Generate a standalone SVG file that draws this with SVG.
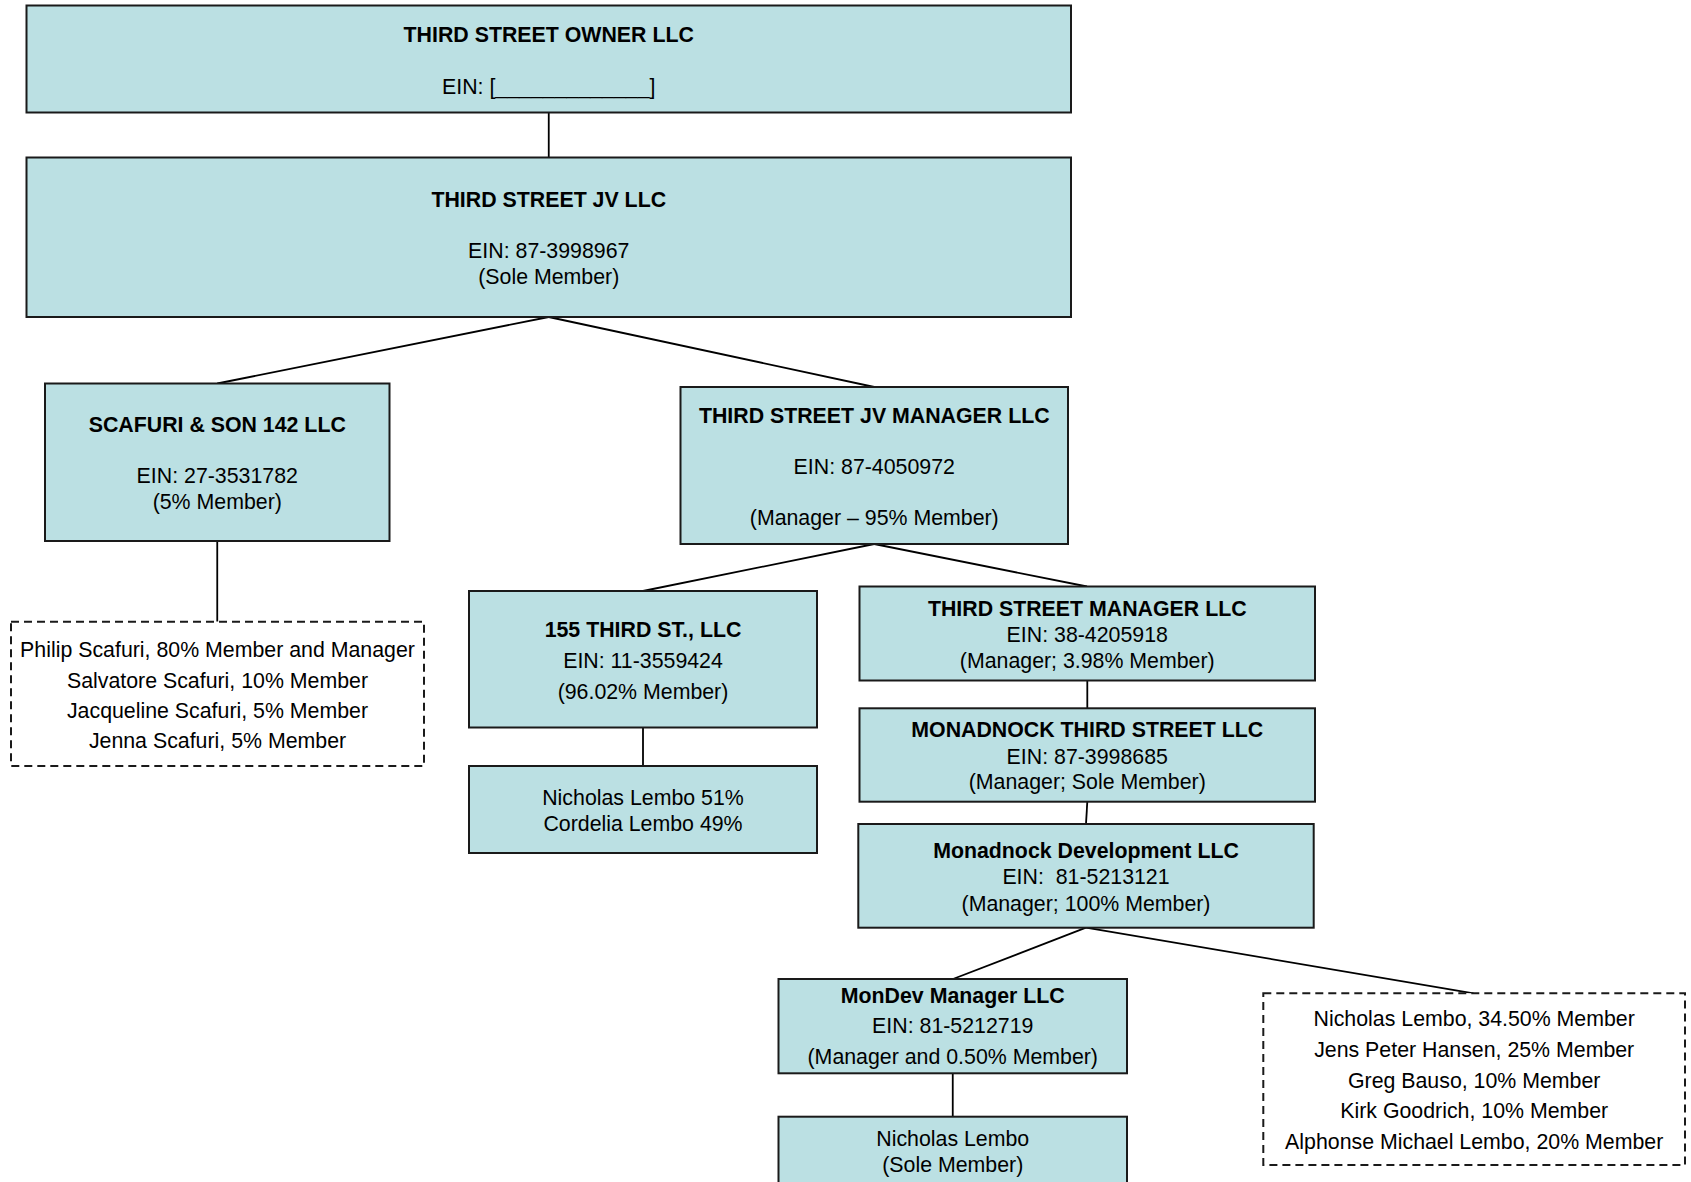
<svg xmlns="http://www.w3.org/2000/svg" width="1691" height="1182" viewBox="0 0 1691 1182">
<style>
.box{fill:#BBE0E3;stroke:#1a1a1a;stroke-width:2}
.dash{fill:#fff;stroke:#1a1a1a;stroke-width:2;stroke-dasharray:8 5}
text{font-family:"Liberation Sans",Arial,sans-serif;font-size:21.33px;fill:#000;text-anchor:middle}
.b{font-weight:bold}
.conn line{stroke:#000;stroke-width:1.8}
</style>
<rect width="1691" height="1182" fill="#fff"/>
<g class="conn">
<line x1="548.75" y1="112.5" x2="548.75" y2="157.5"/>
<line x1="548.75" y1="317" x2="217.25" y2="383.5"/>
<line x1="548.75" y1="317" x2="874.25" y2="387"/>
<line x1="217.25" y1="541" x2="217.25" y2="621.7"/>
<line x1="874.25" y1="544" x2="643" y2="591"/>
<line x1="874.25" y1="544" x2="1087" y2="586.5"/>
<line x1="643" y1="727.5" x2="643" y2="766"/>
<line x1="1087.3" y1="680.5" x2="1087.3" y2="708.3"/>
<line x1="1087.3" y1="801.7" x2="1086" y2="824"/>
<line x1="1086" y1="927.7" x2="953" y2="979"/>
<line x1="1086" y1="927.7" x2="1473.5" y2="993.3"/>
<line x1="952.75" y1="1073.3" x2="952.75" y2="1116.7"/>
</g>
<g id="owner">
<rect class="box" x="26.5" y="5.5" width="1044.5" height="107"/>
<text class="b" x="548.75" y="41.7">THIRD STREET OWNER LLC</text>
<text x="548.75" y="94">EIN: [_____________]</text>
</g>
<g id="jv">
<rect class="box" x="26.5" y="157.5" width="1044.5" height="159.5"/>
<text class="b" x="548.75" y="207.3">THIRD STREET JV LLC</text>
<text x="548.75" y="258.3">EIN: 87-3998967</text>
<text x="548.75" y="284">(Sole Member)</text>
</g>
<g id="scafuri">
<rect class="box" x="45" y="383.5" width="344.5" height="157.5"/>
<text class="b" x="217.25" y="431.7">SCAFURI &amp; SON 142 LLC</text>
<text x="217.25" y="482.7">EIN: 27-3531782</text>
<text x="217.25" y="509">(5% Member)</text>
</g>
<g id="jvmanager">
<rect class="box" x="680.5" y="387" width="387.5" height="157"/>
<text class="b" x="874.25" y="422.7">THIRD STREET JV MANAGER LLC</text>
<text x="874.25" y="474.3">EIN: 87-4050972</text>
<text x="874.25" y="524.5">(Manager – 95% Member)</text>
</g>
<g id="third155">
<rect class="box" x="469" y="591" width="348" height="136.5"/>
<text class="b" x="643" y="636.7">155 THIRD ST., LLC</text>
<text x="643" y="667.7">EIN: 11-3559424</text>
<text x="643" y="698.5">(96.02% Member)</text>
</g>
<g id="lembo155">
<rect class="box" x="469" y="766" width="348" height="87"/>
<text x="643" y="805.3">Nicholas Lembo 51%</text>
<text x="643" y="831">Cordelia Lembo 49%</text>
</g>
<g id="tsmanager">
<rect class="box" x="859.5" y="586.5" width="455.5" height="94"/>
<text class="b" x="1087.25" y="615.5">THIRD STREET MANAGER LLC</text>
<text x="1087.25" y="641.5">EIN: 38-4205918</text>
<text x="1087.25" y="667.5">(Manager; 3.98% Member)</text>
</g>
<g id="monadnockthird">
<rect class="box" x="859.5" y="708.3" width="455.5" height="93.4"/>
<text class="b" x="1087.25" y="737.2">MONADNOCK THIRD STREET LLC</text>
<text x="1087.25" y="763.5">EIN: 87-3998685</text>
<text x="1087.25" y="789">(Manager; Sole Member)</text>
</g>
<g id="monadnockdev">
<rect class="box" x="858.3" y="824" width="455.4" height="103.7"/>
<text class="b" x="1086" y="857.8">Monadnock Development LLC</text>
<text x="1086" y="884.3" xml:space="preserve">EIN:  81-5213121</text>
<text x="1086" y="911">(Manager; 100% Member)</text>
</g>
<g id="mondev">
<rect class="box" x="778.5" y="979" width="348.5" height="94.3"/>
<text class="b" x="952.75" y="1002.7">MonDev Manager LLC</text>
<text x="952.75" y="1033.2">EIN: 81-5212719</text>
<text x="952.75" y="1064">(Manager and 0.50% Member)</text>
</g>
<g id="nlembo">
<rect class="box" x="778.5" y="1116.7" width="348.5" height="72"/>
<text x="952.75" y="1146.2">Nicholas Lembo</text>
<text x="952.75" y="1171.5">(Sole Member)</text>
</g>
<g id="scafurimembers">
<rect class="dash" x="11" y="621.7" width="413" height="144.3"/>
<text x="217.5" y="657">Philip Scafuri, 80% Member and Manager</text>
<text x="217.5" y="687.5">Salvatore Scafuri, 10% Member</text>
<text x="217.5" y="718">Jacqueline Scafuri, 5% Member</text>
<text x="217.5" y="748.3">Jenna Scafuri, 5% Member</text>
</g>
<g id="monadnockmembers">
<rect class="dash" x="1263.3" y="993.3" width="421.7" height="171.7"/>
<text x="1474.2" y="1026">Nicholas Lembo, 34.50% Member</text>
<text x="1474.2" y="1056.8">Jens Peter Hansen, 25% Member</text>
<text x="1474.2" y="1087.6">Greg Bauso, 10% Member</text>
<text x="1474.2" y="1118.4">Kirk Goodrich, 10% Member</text>
<text x="1474.2" y="1149.2">Alphonse Michael Lembo, 20% Member</text>
</g>
</svg>
